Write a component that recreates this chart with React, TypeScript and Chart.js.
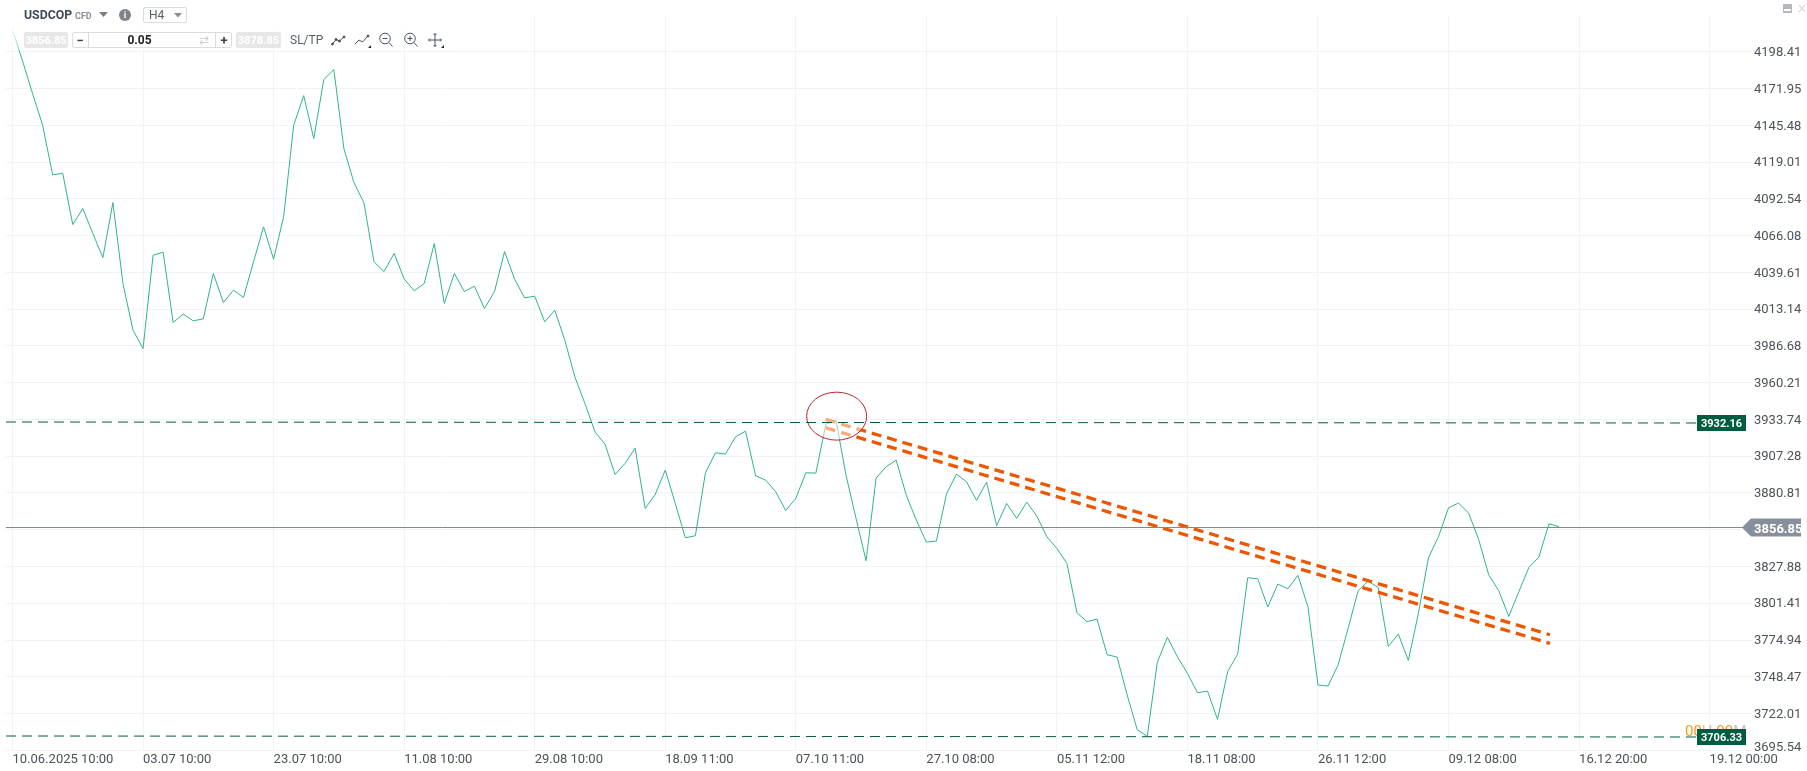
import React, { useEffect, useRef } from "react";
import { Chart, registerables } from "chart.js";

Chart.register(...registerables);

const closePrices = [
  4214.36, 4191.81, 4168.31, 4145.52, 4109.78, 4110.97, 4074.03, 4085.55, 4067.56, 4050.29,
  4089.87, 4031.57, 3997.99, 3984.8, 4051.96, 4054.12, 4003.51, 4009.51, 4004.71, 4006.15,
  4038.77, 4017.9, 4026.78, 4021.5, 4047.17, 4072.35, 4049.08, 4079.55, 4145.52, 4166.87,
  4135.92, 4178.38, 4185.58, 4128.73, 4104.26, 4089.63, 4047.17, 4040.21, 4053.16, 4034.93,
  4026.3, 4031.57, 4060.36, 4017.18, 4038.78, 4025.82, 4029.66, 4013.59, 4025.82, 4054.61,
  4034.7, 4021.26, 4022.46, 4003.99, 4012.39, 3990.8, 3964.41, 3945.22, 3924.83, 3915.96,
  3894.13, 3902.04, 3913.08, 3869.66, 3879.74, 3897.25, 3873.26, 3848.55, 3849.99, 3895.33,
  3909.72, 3908.76, 3921.23, 3925.31, 3893.17, 3890.05, 3881.65, 3868.22, 3876.86, 3895.33,
  3895.09, 3930.35, 3933.23, 3893.65, 3862.46, 3832.0, 3891.49, 3899.65, 3904.44, 3879.25,
  3861.26, 3845.43, 3846.15, 3879.97, 3894.37, 3888.85, 3875.42, 3888.61, 3857.18, 3873.26,
  3862.46, 3874.22, 3864.14, 3849.27, 3840.87, 3830.08, 3794.58, 3788.1, 3790.02, 3764.35,
  3762.67, 3735.33, 3710.38, 3705.58, 3758.83, 3776.82, 3762.91, 3750.92, 3737.0, 3738.2,
  3717.81, 3752.12, 3764.83, 3819.77, 3819.05, 3798.66, 3815.21, 3811.85, 3821.44, 3798.9,
  3742.52, 3741.8, 3756.92, 3783.3, 3810.41, 3817.37, 3812.81, 3770.35, 3779.23, 3760.27,
  3794.1, 3834.16, 3849.27, 3870.14, 3873.5, 3866.3, 3847.35, 3821.92, 3810.41, 3791.94,
  3809.69, 3827.2, 3834.64, 3858.63, 3856.47,
];

const xTickLabels = [
  "10.06.2025 10:00", "03.07 10:00", "23.07 10:00", "11.08 10:00", "29.08 10:00",
  "18.09 11:00", "07.10 11:00", "27.10 08:00", "05.11 12:00", "18.11 08:00",
  "26.11 12:00", "09.12 08:00", "16.12 20:00", "19.12 00:00",
];
const barsPerTick = 13;

const yTickValues = [
  4198.41, 4171.95, 4145.48, 4119.01, 4092.54, 4066.08, 4039.61, 4013.14, 3986.68, 3960.21,
  3933.74, 3907.28, 3880.81, 3854.34, 3827.88, 3801.41, 3774.94, 3748.47, 3722.01, 3695.54,
];
const hiddenYTick = 3854.34;
const bottomYTick = 3695.54;

const xMin = -0.647;
const xMax = 173.22;
const yMin = 3695.54;
const yMax = 4224.88;

const currentLevel = 3855.93;
const currentLabel = "3856.85";
const upperLevelStart = 3931.88;
const upperLevelEnd = 3931.16;
const upperLabel = "3932.16";
const lowerLevelStart = 3705.83;
const lowerLevelEnd = 3705.11;
const lowerLabel = "3706.33";
const levelEndIndex = 167.8;

const trendUpperX = [80.98, 153.1];
const trendUpperY = [3933.73, 3778.72];
const trendLowerX = [80.98, 153.1];
const trendLowerY = [3927.69, 3772.53];

const circleCenterX = 82.07;
const circleCenterY = 3936.1;

const ROBOTO = "Roboto, sans-serif";

const overlayPlugin = {
  id: "overlay",
  afterDatasetDraw(chart: any, args: any) {
    if (args.index !== 3) return;
    const { ctx, scales } = chart;
    const cx = scales.x.getPixelForValue(circleCenterX);
    const cy = scales.y.getPixelForValue(circleCenterY);
    ctx.save();
    ctx.beginPath();
    ctx.ellipse(cx, cy, 30, 24, 0, 0, Math.PI * 2);
    ctx.fillStyle = "rgba(255,255,255,0.5)";
    ctx.fill();
    ctx.strokeStyle = "#b9252f";
    ctx.lineWidth = 1;
    ctx.stroke();
    ctx.restore();
  },
  afterDraw(chart: any) {
    const { ctx, scales } = chart;
    const tagLeft = 1697;
    const tagW = 49;
    const tagH = 16;
    ctx.save();
    ctx.textBaseline = "alphabetic";
    ctx.textAlign = "left";
    // bottom tick label sits above its grid line so that it stays inside the axis
    ctx.font = `13px ${ROBOTO}`;
    ctx.fillStyle = "#4b5259";
    ctx.fillText(bottomYTick.toFixed(2), chart.chartArea.right + 2, scales.y.getPixelForValue(bottomYTick) + 0.2);
    const parts: [string, string][] = [["00", "#f59a16"], ["H ", "#c9c2b4"], ["00", "#f59a16"], ["M", "#c9c2b4"]];
    ctx.font = `15px ${ROBOTO}`;
    let px = 1685;
    const lowY = scales.y.getPixelForValue(lowerLevelEnd);
    for (const [t, c] of parts) {
      ctx.fillStyle = c;
      ctx.fillText(t, px, lowY - 1);
      px += ctx.measureText(t).width;
    }
    const tag = (value: number, text: string) => {
      const y = scales.y.getPixelForValue(value);
      ctx.fillStyle = "#005c3f";
      ctx.fillRect(tagLeft, y - tagH / 2, tagW, tagH);
      ctx.strokeStyle = "rgba(0,92,63,0.45)";
      ctx.lineWidth = 1;
      ctx.strokeRect(tagLeft + 0.5, y - tagH / 2 + 0.5, tagW - 1, tagH - 1);
      ctx.fillStyle = "#ffffff";
      ctx.font = `bold 11px ${ROBOTO}`;
      ctx.textAlign = "center";
      ctx.fillText(text, tagLeft + tagW / 2, y + 4);
      ctx.textAlign = "left";
    };
    tag(upperLevelEnd, upperLabel);
    tag(lowerLevelEnd, lowerLabel);
    const cy = scales.y.getPixelForValue(currentLevel);
    ctx.fillStyle = "#87909a";
    ctx.beginPath();
    ctx.moveTo(1742, cy);
    ctx.lineTo(1751, cy - 9);
    ctx.lineTo(1801, cy - 9);
    ctx.lineTo(1801, cy + 9);
    ctx.lineTo(1751, cy + 9);
    ctx.closePath();
    ctx.fill();
    ctx.fillStyle = "#ffffff";
    ctx.font = `bold 13px ${ROBOTO}`;
    ctx.fillText(currentLabel, 1754, cy + 5);
    ctx.restore();
  },
};

const Box = (p: any) => (
  <div
    style={{
      position: "absolute",
      left: p.x,
      top: p.y,
      width: p.w,
      height: p.h,
      boxSizing: "border-box",
      display: "flex",
      alignItems: "center",
      justifyContent: "center",
      whiteSpace: "nowrap",
      ...p.style,
    }}
  >
    {p.children}
  </div>
);

const Icon = (p: any) => (
  <svg
    style={{ position: "absolute", left: p.x, top: p.y }}
    width={p.s ?? 16}
    height={p.s ?? 16}
    viewBox="0 0 16 16"
    fill="none"
    stroke="#46525e"
    strokeWidth={1}
  >
    {p.children}
  </svg>
);

const Toolbar = () => (
  <div style={{ position: "absolute", left: 0, top: 0, width: 500, height: 60, fontFamily: ROBOTO }}>
    <div
      style={{
        position: "absolute",
        left: 12,
        top: 0,
        width: 440,
        height: 51,
        background: "linear-gradient(to bottom, rgba(255,255,255,1) 0, rgba(255,255,255,0.9) 30px, rgba(255,255,255,0.35) 51px)",
      }}
    />
    <div style={{ position: "absolute", left: 24, top: 7, fontWeight: 700, fontSize: 12.3, color: "#3f4a55", lineHeight: "17px" }}>USDCOP</div>
    <div style={{ position: "absolute", left: 75, top: 10, fontWeight: 700, fontSize: 9, color: "#8a9097", lineHeight: "12px" }}>CFD</div>
    <svg style={{ position: "absolute", left: 99, top: 12 }} width={10} height={6}><path d="M0 0H9L4.5 5Z" fill="#777d84" /></svg>
    <Box x={119} y={9} w={12} h={12} style={{ borderRadius: 6, background: "#7f8388", color: "#fff", fontWeight: 700, fontSize: 9 }}>i</Box>
    <Box x={143} y={7} w={44} h={16} style={{ border: "1px solid #dcdcdc", borderRadius: 2, color: "#555d66", fontSize: 12, justifyContent: "flex-start", paddingLeft: 5 }}>H4</Box>
    <svg style={{ position: "absolute", left: 174, top: 13 }} width={9} height={6}><path d="M0 0H8L4 4.5Z" fill="#8b8f94" /></svg>

    <Box x={24} y={32} w={44} h={16} style={{ background: "#e7e7e7", color: "#fff", fontWeight: 700, fontSize: 11, borderRadius: 2 }}>3856.85</Box>
    <Box x={72} y={32} w={160} h={16} style={{ border: "1px solid #dcdcdc", borderRadius: 2, background: "#fff" }} />
    <Box x={72} y={32} w={17} h={16} style={{ borderRight: "1px solid #dcdcdc", color: "#444", fontWeight: 700, fontSize: 13 }}>−</Box>
    <Box x={115} y={32} w={49} h={16} style={{ color: "#222", fontWeight: 700, fontSize: 12 }}>0.05</Box>
    <Box x={191} y={32} w={25} h={16} style={{ color: "#cfcfcf", fontSize: 12 }}>⇄</Box>
    <Box x={215} y={32} w={17} h={16} style={{ borderLeft: "1px solid #dcdcdc", color: "#444", fontWeight: 700, fontSize: 13 }}>+</Box>
    <Box x={236} y={32} w={45} h={16} style={{ background: "#e7e7e7", color: "#fff", fontWeight: 700, fontSize: 11, borderRadius: 2 }}>3878.85</Box>
    <div style={{ position: "absolute", left: 290, top: 32, fontSize: 12, color: "#555d66", lineHeight: "16px" }}>SL/TP</div>

    <Icon x={331} y={32}><path d="M1.5 12L5 7.5L8.5 9L13 5" /><circle cx="1.5" cy="12" r="1" fill="#46525e" /><circle cx="5" cy="7.5" r="1" fill="#46525e" /><circle cx="8.5" cy="9" r="1" fill="#46525e" /><circle cx="13" cy="5" r="1" fill="#46525e" /></Icon>
    <Icon x={354} y={32}><path d="M1 12L5 8L8.5 10L14 4" /><circle cx="14" cy="4" r="1" fill="#46525e" /></Icon>
    <svg style={{ position: "absolute", left: 368, top: 45 }} width={4} height={4}><path d="M3 0V3H0Z" fill="#222" /></svg>
    <Icon x={378} y={32}><circle cx="7" cy="6.5" r="5.3" /><path d="M4.5 6.5H9.5M11 10.5L14.5 14.5" /></Icon>
    <Icon x={403} y={32}><circle cx="7" cy="6.5" r="5.3" /><path d="M4.5 6.5H9.5M7 4V9M11 10.5L14.5 14.5" /></Icon>
    <Icon x={427} y={32}><path d="M8 1.5V14.5M1.5 8H14.5M6.5 3L8 1.5L9.5 3M6.5 13L8 14.5L9.5 13M3 6.5L1.5 8L3 9.5M13 6.5L14.5 8L13 9.5" /></Icon>
    <svg style={{ position: "absolute", left: 441, top: 45 }} width={4} height={4}><path d="M3 0V3H0Z" fill="#222" /></svg>
  </div>
);

const WindowButtons = () => (
  <svg style={{ position: "absolute", left: 1782, top: 3 }} width={24} height={12}>
    <rect x={1} y={1} width={9} height={9} fill="#b4b8bc" />
    <rect x={2} y={6} width={7} height={2} fill="#fff" />
    <path d="M17 2L23 9M23 2L17 9" stroke="#c6c9cc" strokeWidth={1} fill="none" />
  </svg>
);

export default function App() {
  const canvasRef = useRef<HTMLCanvasElement>(null);

  useEffect(() => {
    const canvas = canvasRef.current;
    if (!canvas) return;
    const levelLine = (start: number, stop: number, end: number) => [
      { x: xMin, y: start },
      { x: end, y: stop },
    ];
    const twoPoints = (xs: number[], ys: number[]) => xs.map((x, i) => ({ x, y: ys[i] }));
    const chart = new Chart(canvas, {
      type: "line",
      data: {
        datasets: [
          { label: "Resistance", data: levelLine(upperLevelStart, upperLevelEnd, levelEndIndex), borderColor: "#005c3f", borderWidth: 1, borderDash: [10, 6], pointRadius: 0 },
          { label: "Support", data: levelLine(lowerLevelStart, lowerLevelEnd, levelEndIndex), borderColor: "#005c3f", borderWidth: 1, borderDash: [10, 6], pointRadius: 0 },
          { label: "Current", data: levelLine(currentLevel, currentLevel, xMax), borderColor: "#7f8a90", borderWidth: 1, pointRadius: 0 },
          { label: "Trend upper", data: twoPoints(trendUpperX, trendUpperY), borderColor: "#ee5600", borderWidth: 3.3, borderDash: [10, 6], pointRadius: 0 },
          { label: "Trend lower", data: twoPoints(trendLowerX, trendLowerY), borderColor: "#ee5600", borderWidth: 3.3, borderDash: [10, 6], pointRadius: 0 },
          { label: "USDCOP", data: closePrices.map((y, x) => ({ x, y })), borderColor: "#30b583", borderWidth: 1, pointRadius: 0, tension: 0 },
        ],
      },
      options: {
        animation: false,
        responsive: false,
        events: [],
        layout: { padding: { left: 6, top: 15, right: 0, bottom: 0 } },
        plugins: { legend: { display: false }, tooltip: { enabled: false } },
        scales: {
          x: {
            type: "linear",
            min: xMin,
            max: xMax,
            afterBuildTicks: (axis: any) => {
              axis.ticks = xTickLabels.map((_, i) => ({ value: i * barsPerTick }));
            },
            afterFit: (axis: any) => {
              axis.height = 20.7;
            },
            grid: { color: "#f2f3f3", lineWidth: 1, drawTicks: false },
            border: { display: false },
            ticks: {
              autoSkip: false,
              maxRotation: 0,
              minRotation: 0,
              align: "start",
              padding: 2,
              color: "#4b5259",
              font: { family: "Roboto", size: 13 },
              callback: (v: any) => xTickLabels[Math.round(Number(v) / barsPerTick)] ?? "",
            },
          },
          y: {
            type: "linear",
            position: "right",
            min: yMin,
            max: yMax,
            afterBuildTicks: (axis: any) => {
              axis.ticks = yTickValues.map((value) => ({ value }));
            },
            afterFit: (axis: any) => {
              axis.width = 55;
            },
            grid: { color: "#f2f3f3", lineWidth: 1, drawTicks: false },
            border: { display: false },
            ticks: {
              autoSkip: false,
              padding: 2,
              labelOffset: 1,
              color: "#4b5259",
              font: { family: "Roboto", size: 13 },
              callback: (v: any) =>
                Number(v) === hiddenYTick || Number(v) === bottomYTick ? "" : Number(v).toFixed(2),
            },
          },
        },
      },
      plugins: [overlayPlugin],
    } as any);
    return () => chart.destroy();
  }, []);

  return (
    <div style={{ position: "fixed", left: 0, top: 0, width: 1807, height: 771, overflow: "hidden", background: "#fff" }}>
      <canvas ref={canvasRef} width={1807} height={771} style={{ display: "block", width: 1807, height: 771 }} />
      <Toolbar />
      <WindowButtons />
    </div>
  );
}
